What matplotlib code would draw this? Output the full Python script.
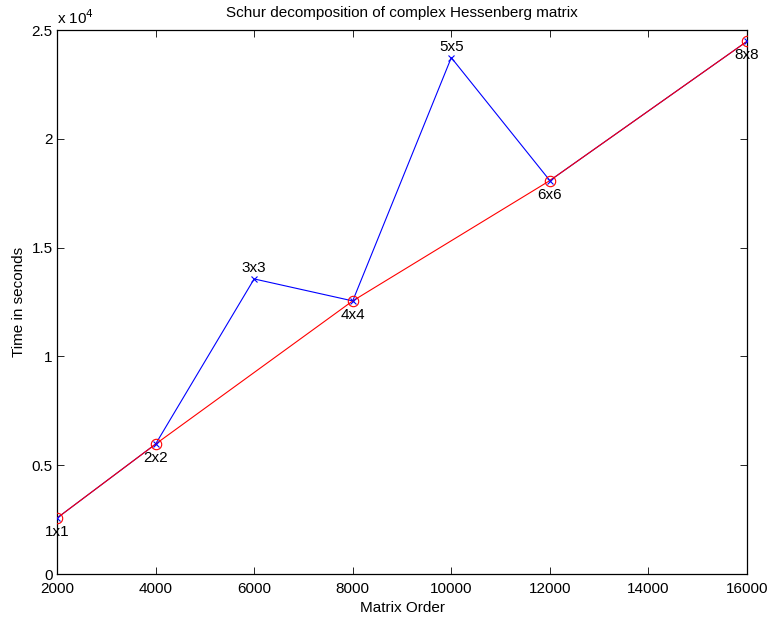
import matplotlib
matplotlib.use("Agg")
import matplotlib.pyplot as plt
from matplotlib.ticker import FuncFormatter

plt.rcParams['font.family'] = ['Liberation Sans', 'DejaVu Sans']

# Data
blue_x = [2000, 4000, 6000, 8000, 10000, 12000, 16000]
blue_y = [2570, 5970, 13560, 12550, 23730, 18080, 24480]
red_x = [2000, 4000, 8000, 12000, 16000]
red_y = [2570, 5970, 12550, 18080, 24480]
labels = ['1x1', '2x2', '3x3', '4x4', '5x5', '6x6', '8x8']
label_above = [False, False, True, False, True, False, False]

fig = plt.figure(figsize=(7.7, 6.18), dpi=100)
ax = fig.add_axes([57/770, 44/618, 690/770, 544/618])

ax.plot(blue_x, blue_y, color='blue', lw=0.8, zorder=2)
ax.plot(red_x, red_y, color='red', lw=0.8, marker='o', mfc='none', mec='red', ms=7.5, mew=0.8, zorder=3)
ax.plot(blue_x, blue_y, ls='none', marker='x', color='blue', ms=5, mew=0.8, zorder=4)

for x, y, t, up in zip(blue_x, blue_y, labels, label_above):
    if up:
        ax.annotate(t, (x, y), xytext=(0, 2.5), textcoords='offset points', ha='center', va='bottom', fontsize=11)
    else:
        ax.annotate(t, (x, y), xytext=(0, -5), textcoords='offset points', ha='center', va='top', fontsize=11)

ax.set_xlim(2000, 16000)
ax.set_ylim(0, 25000)
ax.set_xticks(list(range(2000, 16001, 2000)))
ax.set_yticks([0, 5000, 10000, 15000, 20000, 25000])
ax.yaxis.set_major_formatter(FuncFormatter(lambda v, p: '%g' % (v / 1e4)))
ax.tick_params(direction='in', top=True, right=True, length=5, width=0.6, labelsize=11)
ax.tick_params(axis='x', pad=6)
ax.tick_params(axis='y', pad=3)
for s in ax.spines.values():
    s.set_linewidth(0.9)

ax.text(0.0, 1.005, r'x 10$^{4}$', transform=ax.transAxes, ha='left', va='bottom', fontsize=11)
ax.set_title('Schur decomposition of complex Hessenberg matrix', fontsize=11, pad=9)
ax.set_xlabel('Matrix Order', fontsize=11, labelpad=3)
ax.set_ylabel('Time in seconds', fontsize=11, labelpad=4)

fig.savefig('out.png', dpi=100)
